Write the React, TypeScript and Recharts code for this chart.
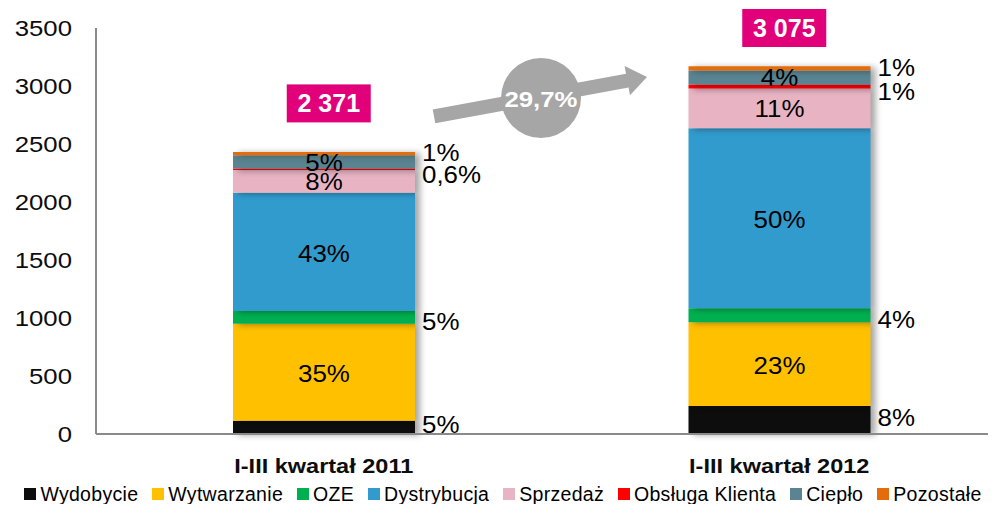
import React from "react";
import {
  BarChart,
  Bar,
  XAxis,
  YAxis,
  LabelList,
  ReferenceDot,
} from "recharts";

const FONT = '"Liberation Sans", Arial, sans-serif';

const categories = ["I-III kwartał 2011", "I-III kwartał 2012"];
const yTicks = [0, 500, 1000, 1500, 2000, 2500, 3000, 3500];

// values (mln zł)
const wydobycie = [115, 241];
const wytwarzanie = [835, 722];
const oze = [110, 121];
const dystrybucja = [1020, 1552];
const sprzedaz = [196, 343];
const obslugaKlienta = [12, 34];
const cieplo = [115, 121];
const pozostale = [28, 37];

const wydobycieLabels = ["5%", "8%"];
const wytwarzanieLabels = ["35%", "23%"];
const ozeLabels = ["5%", "4%"];
const dystrybucjaLabels = ["43%", "50%"];
const sprzedazLabels = ["8%", "11%"];
const obslugaLabels = ["0,6%", "1%"];
const cieploLabels = ["5%", "4%"];
const pozostaleLabels = ["1%", "1%"];

const totals = ["2 371", "3 075"];
const growth = "29,7%";

type Series = {
  key: string;
  name: string;
  color: string;
  values: number[];
  labels: string[];
  place: "in" | "right";
  dy: number;
};

const SERIES: Series[] = [
  { key: "wydobycie", name: "Wydobycie", color: "#0D0D0D", values: wydobycie, labels: wydobycieLabels, place: "right", dy: -3 },
  { key: "wytwarzanie", name: "Wytwarzanie", color: "#FFC000", values: wytwarzanie, labels: wytwarzanieLabels, place: "in", dy: 1 },
  { key: "oze", name: "OZE", color: "#00B050", values: oze, labels: ozeLabels, place: "right", dy: 4 },
  { key: "dystrybucja", name: "Dystrybucja", color: "#319BCE", values: dystrybucja, labels: dystrybucjaLabels, place: "in", dy: 1 },
  { key: "sprzedaz", name: "Sprzedaż", color: "#E8B4C4", values: sprzedaz, labels: sprzedazLabels, place: "in", dy: 0 },
  { key: "obsluga", name: "Obsługa Klienta", color: "#FF0000", values: obslugaKlienta, labels: obslugaLabels, place: "right", dy: 5 },
  { key: "cieplo", name: "Ciepło", color: "#5A8491", values: cieplo, labels: cieploLabels, place: "in", dy: 0 },
  { key: "pozostale", name: "Pozostałe", color: "#E46C0A", values: pozostale, labels: pozostaleLabels, place: "right", dy: -1 },
];

const rows = categories.map((category, i) => {
  const row: Record<string, string | number> = { category };
  SERIES.forEach((s) => {
    row[s.key] = s.values[i];
    row[s.key + "Lbl"] = s.labels[i];
  });
  return row;
});

// where the pink total boxes sit, in axis units
const TOTAL_BOX_Y = [2850, 3500];

// text stretched horizontally around its anchor point
const SText = ({ x, y, sx = 1, children, ...rest }: any) => {
  const nx = Number(x);
  return (
    <text
      x={nx}
      y={y}
      transform={`matrix(${sx} 0 0 1 ${nx * (1 - sx)} 0)`}
      fontFamily={FONT}
      {...rest}
    >
      {children}
    </text>
  );
};

const YTick = ({ x, y, payload }: any) => (
  <SText x={x} y={y} sx={1.17} textAnchor="end" dominantBaseline="central" fontSize={22} fill="#0d0d0d">
    {payload.value}
  </SText>
);

const XTick = ({ x, y, payload }: any) => (
  <SText x={x} y={Number(y) + 39} sx={1.12} textAnchor="middle" fontSize={21} fontWeight="bold" fill="#0d0d0d">
    {payload.value}
  </SText>
);

const makeLabel = (s: Series) => (p: any) => {
  const x = Number(p.x);
  const y = Number(p.y);
  const width = Number(p.width);
  const height = Number(p.height);
  if (!p.value) return null;
  const inside = s.place === "in";
  return (
    <SText
      x={inside ? x + width / 2 : x + width + 7}
      y={y + height / 2 + s.dy}
      sx={1.08}
      textAnchor={inside ? "middle" : "start"}
      dominantBaseline="central"
      fontSize={24}
      fill="#000"
    >
      {p.value}
    </SText>
  );
};

const TotalBox = (text: string) => (props: any) => {
  const cx = Number(props.cx) + 5;
  const cy = Number(props.cy);
  return (
    <g>
      <rect x={cx - 42} y={cy - 19} width={84} height={38} fill="#E2007A" />
      <text
        x={cx}
        y={cy}
        textAnchor="middle"
        dominantBaseline="central"
        fontFamily={FONT}
        fontWeight="bold"
        fontSize={25}
        fill="#fff"
      >
        {text}
      </text>
    </g>
  );
};

const LegendRow = () => (
  <div
    style={{
      position: "absolute",
      left: 5,
      top: 482,
      width: 996,
      height: 24,
      display: "flex",
      justifyContent: "center",
      alignItems: "center",
      fontFamily: FONT,
      fontSize: 19.5,
      letterSpacing: 0.3,
      lineHeight: "24px",
      whiteSpace: "nowrap",
      color: "#000",
    }}
  >
    {SERIES.map((s, i) => (
      <span
        key={s.key}
        style={{ display: "flex", alignItems: "center", marginRight: i === SERIES.length - 1 ? 0 : 14 }}
      >
        <span style={{ width: 12, height: 12, background: s.color, marginRight: 4, flexShrink: 0 }} />
        {s.name}
      </span>
    ))}
  </div>
);

// grey growth arrow with the circle between the bars
const GrowthArrow = () => (
  <svg
    width={996}
    height={512}
    style={{ position: "absolute", left: 0, top: 0, pointerEvents: "none" }}
  >
    <polygon
      points="432.7,109.5 626,73.7 624.6,65.9 647,77 630,95.3 628.6,87.5 435.3,123.3"
      fill="#A6A6A6"
    />
    <circle cx={541} cy={98} r={40} fill="#A6A6A6" />
    <SText
      x={541}
      y={99}
      sx={1.12}
      textAnchor="middle"
      dominantBaseline="central"
      fontSize={23}
      fontWeight="bold"
      fill="#fff"
    >
      {growth}
    </SText>
  </svg>
);

export default function App() {
  return (
    <div
      style={{
        position: "relative",
        margin: -8,
        width: 996,
        height: 512,
        overflow: "hidden",
        background: "#fff",
      }}
    >
      <style>{`html, body { overflow: hidden; } .recharts-bar-rectangles { filter: drop-shadow(5px 1px 3px rgba(0,0,0,0.35)); }`}</style>
      <BarChart
        width={1010}
        height={512}
        data={rows}
        margin={{ top: 28, right: 3, left: 0, bottom: 0 }}
      >
        <XAxis
          dataKey="category"
          tick={<XTick />}
          tickLine={false}
          tickSize={0}
          tickMargin={0}
          height={78}
          axisLine={{ stroke: "#8a8a8a", strokeWidth: 2 }}
        />
        <YAxis
          domain={[0, 3500]}
          ticks={yTicks}
          tick={<YTick />}
          tickLine={false}
          tickSize={0}
          tickMargin={24}
          width={96}
          axisLine={{ stroke: "#8a8a8a", strokeWidth: 2 }}
        />
        {SERIES.map((s) => (
          <Bar
            key={s.key}
            dataKey={s.key}
            name={s.name}
            stackId="a"
            fill={s.color}
            barSize={182}
            isAnimationActive={false}
          >
            <LabelList dataKey={s.key + "Lbl"} content={makeLabel(s)} />
          </Bar>
        ))}
        {categories.map((c, i) => (
          <ReferenceDot
            key={c}
            x={c}
            y={TOTAL_BOX_Y[i]}
            ifOverflow="visible"
            shape={TotalBox(totals[i])}
          />
        ))}
      </BarChart>
      <LegendRow />
      <GrowthArrow />
    </div>
  );
}
